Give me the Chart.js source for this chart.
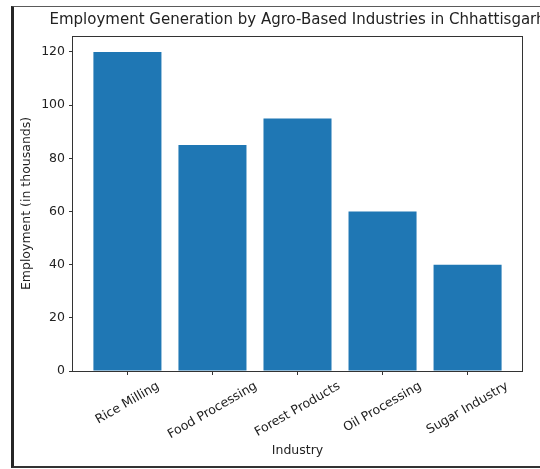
<!DOCTYPE html>
<html>
<head>
<meta charset="utf-8">
<script src="https://cdn.jsdelivr.net/npm/chart.js@4/dist/chart.umd.min.js"></script>
<style>
  html, body { margin: 0; padding: 0; background: #fff; width: 540px; height: 469px; overflow: hidden; }
  #wrap { position: relative; width: 540px; height: 469px; overflow: hidden; }
  #frame { position: absolute; left: 11px; top: 6px; width: 700px; height: 459px;
           border-left: 3px solid #262626; border-top: 1px solid #5a5a5a; border-bottom: 2px solid #333; }
  #c { position: absolute; left: 0; top: 0; }
</style>
</head>
<body>
<div id="wrap">
  <div id="frame"></div>
  <canvas id="c" width="595" height="469" style="width:595px;height:469px"></canvas>
</div>
<script>
const chartTitle = 'Employment Generation by Agro-Based Industries in Chhattisgarh';
const industries = ['Rice Milling', 'Food Processing', 'Forest Products', 'Oil Processing', 'Sugar Industry'];
const employment = [120, 85, 95, 60, 40];
const yTicks = [0, 20, 40, 60, 80, 100, 120];
const xAxisTitle = 'Industry';
const yAxisTitle = 'Employment (in thousands)';

const FONT = 'DejaVu Sans';
const TXT = '#222';
const BAR = '#1f77b4';

const points = industries.map((name, i) => ({ x: i, y: employment[i] }));

const framePlugin = {
  id: 'frame',
  afterDatasetsDraw(chart) {
    const { ctx, chartArea: a } = chart;
    ctx.save();
    ctx.strokeStyle = '#333';
    ctx.lineWidth = 1;
    ctx.strokeRect(Math.round(a.left) - 0.5, Math.round(a.top) + 0.5,
                   Math.round(a.right - a.left) + 1, Math.round(a.bottom - a.top));
    ctx.restore();
  }
};

const xLabelPlugin = {
  id: 'xlabels',
  afterDraw(chart) {
    const { ctx } = chart;
    const xs = chart.scales.x;
    const ang = 30 * Math.PI / 180;
    const top = chart.chartArea.bottom + 8;
    ctx.save();
    ctx.font = '12.5px "' + FONT + '"';
    ctx.fillStyle = TXT;
    ctx.textAlign = 'center';
    ctx.textBaseline = 'middle';
    industries.forEach((lab, i) => {
      const w = ctx.measureText(lab).width;
      const h = 14.5;
      const H = w * Math.sin(ang) + h * Math.cos(ang);
      const cx = xs.getPixelForValue(i);
      const cy = top + H / 2;
      ctx.save();
      ctx.translate(cx, cy);
      ctx.rotate(-ang);
      ctx.fillText(lab, 0, 0);
      ctx.restore();
    });
    ctx.restore();
  }
};

new Chart(document.getElementById('c'), {
  type: 'bar',
  data: {
    datasets: [{
      data: points,
      backgroundColor: BAR,
      borderWidth: 0,
      inflateAmount: 0,
      barPercentage: 0.8,
      categoryPercentage: 1.0
    }]
  },
  options: {
    responsive: false,
    animation: false,
    devicePixelRatio: 1,
    layout: { padding: 0 },
    plugins: {
      legend: { display: false },
      tooltip: { enabled: false },
      title: {
        display: true,
        text: chartTitle,
        color: TXT,
        font: { family: FONT, size: 15, weight: 'normal', lineHeight: 1.2 },
        padding: { top: 11.5, bottom: 6.5 }
      }
    },
    scales: {
      x: {
        type: 'linear',
        offset: false,
        min: -0.64,
        max: 4.64,
        afterFit(s) { s.height = 98; },
        ticks: { display: false, stepSize: 1, includeBounds: false },
        grid: { offset: false, drawOnChartArea: false, drawTicks: true, tickLength: 4, color: '#333' },
        border: { display: false },
        title: {
          display: true, text: xAxisTitle, color: TXT,
          font: { family: FONT, size: 12.5, lineHeight: 1.2 },
          padding: { top: 0, bottom: 10.5 }
        }
      },
      y: {
        min: 0,
        max: 126,
        afterFit(s) { s.width = 73; },
        afterBuildTicks(s) { s.ticks = yTicks.map(v => ({ value: v })); },
        ticks: {
          stepSize: 20, includeBounds: false, color: TXT, padding: 4,
          font: { family: FONT, size: 12.5 }
        },
        grid: { drawOnChartArea: false, drawTicks: true, tickLength: 4, color: '#333' },
        border: { display: false },
        title: {
          display: true, text: yAxisTitle, color: TXT,
          font: { family: FONT, size: 12.5, lineHeight: 1.2 },
          padding: { top: 19.5, bottom: 0 }
        }
      },
      yRight: {
        type: 'linear',
        position: 'right',
        display: true,
        afterFit(s) { s.width = 73; },
        ticks: { display: false },
        grid: { display: false },
        border: { display: false },
        title: { display: false }
      }
    }
  },
  plugins: [framePlugin, xLabelPlugin]
});
</script>
</body>
</html>
